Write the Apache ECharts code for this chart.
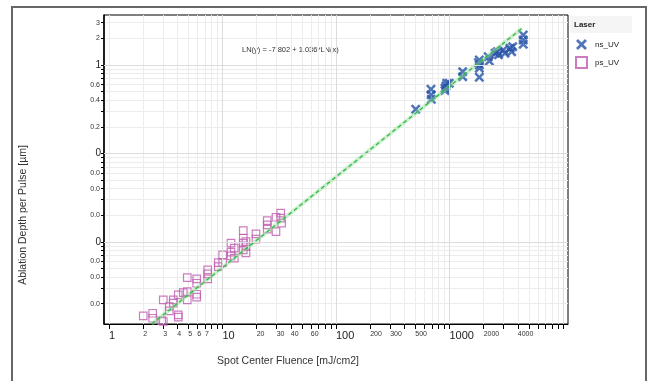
<!DOCTYPE html>
<html><head><meta charset="utf-8">
<script src="https://cdn.jsdelivr.net/npm/echarts@6/dist/echarts.min.js"></script>
<style>html,body{margin:0;padding:0;background:#fff}#c{width:651px;height:381px}</style>
</head><body><div id="c"></div>
<script>
// ---- data ----
const nsUV_x = [504, 687, 692, 690, 913, 913, 945, 996, 930, 1307, 1307, 1832, 1832, 1832, 1832, 1800, 2198, 2243, 2518, 2637, 2700, 2979, 3080, 3413, 3530, 3605, 4467, 4467, 4467];
const nsUV_y = [0.316, 0.531, 0.41, 0.46, 0.513, 0.545, 0.621, 0.621, 0.58, 0.84, 0.738, 1.139, 1.0, 0.918, 0.726, 1.06, 1.24, 1.11, 1.356, 1.413, 1.30, 1.477, 1.356, 1.544, 1.413, 1.61, 2.18, 1.915, 1.713];
const psUV_x = [2.005, 2.427, 2.427, 2.913, 3.009, 3.009, 3.398, 3.398, 3.686, 3.686, 4.08, 4.08, 4.08, 4.515, 4.895, 4.895, 4.895, 5.926, 5.926, 5.926, 5.926, 7.41, 7.41, 7.41, 9.18, 9.18, 10.04, 10.04, 11.88, 11.88, 11.88, 12.7, 12.7, 15.25, 15.25, 15.25, 15.25, 16.1, 16.1, 16.1, 19.73, 19.73, 24.8, 24.8, 24.8, 29.6, 29.6, 32.6, 32.6, 33.2];
const psUV_y = [0.00146, 0.00156, 0.00137, 0.00129, 0.00126, 0.00221, 0.00186, 0.00166, 0.00221, 0.00203, 0.00252, 0.0015, 0.00141, 0.00267, 0.00274, 0.00221, 0.00395, 0.00382, 0.00341, 0.00256, 0.00237, 0.00483, 0.00435, 0.00382, 0.00583, 0.00526, 0.00713, 0.00583, 0.00966, 0.00765, 0.00695, 0.00849, 0.00654, 0.01342, 0.0110, 0.00966, 0.00812, 0.01008, 0.00885, 0.0075, 0.0123, 0.01073, 0.0174, 0.01556, 0.01393, 0.0190, 0.01306, 0.0211, 0.01853, 0.01626];
const fitX = [2.38, 4365];
const fitY = [0.00118, 2.6];
const xRange = [0.904, 11070];
const yRange = [0.00118, 3.67];
const xTickValues = [1,2,3,4,5,6,7,8,9,10,20,30,40,50,60,70,80,90,100,200,300,400,500,600,700,800,900,1000,2000,3000,4000,5000,6000,7000,8000,9000,10000];
const xLabelsSmall = ['2','3','4','5','6','7','20','30','40','60','200','300','500','2000','4000'];
const xLabelsBig = ['1','10','100','1000'];
const yTickValues = [3,2,1,0.9,0.8,0.7,0.6,0.5,0.4,0.3,0.2,0.1,0.09,0.08,0.07,0.06,0.05,0.04,0.03,0.02,0.01,0.009,0.008,0.007,0.006,0.005,0.004,0.003,0.002];
const yLabelsSmall = ['3','2','0.6','0.4','0.2','0.06','0.04','0.02','0.006','0.004','0.002'];
const yLabelsBig = ['1','0.1','0.01'];
const decadesX = [10, 100, 1000, 10000];
const decadesY = [1, 0.1, 0.01];
const equationText = 'LN(y) = -7.802 + 1.036*LN(x)';

// ---- chart ----
const L = v => Math.log10(v);
const fmt = list => v => { for (const s of list) { if (Math.abs(L(+s) - v) < 1e-6) return s; } return ''; };
const pts = (xs, ys) => xs.map((x, i) => [L(x), L(ys[i])]);
const BLUE = '#2553a8', PINK = '#bf5cb0';
const XPATH = 'path://M0,1.8 L1.8,0 L5,3.2 L8.2,0 L10,1.8 L6.8,5 L10,8.2 L8.2,10 L5,6.8 L1.8,10 L0,8.2 L3.2,5 Z';

const xBase = { type: 'value', position: 'bottom', min: L(xRange[0]), max: L(xRange[1]) };
const yBase = { type: 'value', position: 'left', min: L(yRange[0]), max: L(yRange[1]) };

const chart = echarts.init(document.getElementById('c'), null, { renderer: 'canvas' });
chart.setOption({
  animation: false,
  backgroundColor: '#fff',
  textStyle: { fontFamily: 'Liberation Sans, Arial, sans-serif' },
  grid: { left: 104, top: 15, width: 464, height: 309, show: true, borderColor: '#000', borderWidth: 1, containLabel: false },
  xAxis: [
    Object.assign({}, xBase, {
      axisLine: { onZero: false, lineStyle: { color: '#000', width: 1 } },
      axisTick: { customValues: xTickValues.map(L), length: 5, lineStyle: { color: '#000' } },
      axisLabel: { customValues: xLabelsSmall.map(s => L(+s)), formatter: fmt(xLabelsSmall), fontSize: 7, color: '#333', align: 'left', margin: 7 },
      splitLine: { show: true, lineStyle: { color: '#ececec', width: 1 } }
    }),
    Object.assign({}, xBase, {
      axisLine: { show: false }, axisTick: { show: false }, splitLine: { show: false },
      axisLabel: { customValues: xLabelsBig.map(s => L(+s)), formatter: fmt(xLabelsBig), fontSize: 11, color: '#222', align: 'left', margin: 6 }
    })
  ],
  yAxis: [
    Object.assign({}, yBase, {
      axisLine: { onZero: false, lineStyle: { color: '#000', width: 1.5 } },
      axisTick: { customValues: yTickValues.map(L), length: 3, lineStyle: { color: '#000' } },
      axisLabel: { customValues: yLabelsSmall.map(s => L(+s)), formatter: fmt(yLabelsSmall), fontSize: 7, color: '#333', margin: 4, width: 12, overflow: 'truncate', ellipsis: '', align: 'right' },
      splitLine: { show: true, lineStyle: { color: '#ececec', width: 1 } }
    }),
    Object.assign({}, yBase, {
      axisLine: { show: false }, axisTick: { show: false }, splitLine: { show: false },
      axisLabel: { customValues: yLabelsBig.map(s => L(+s)), formatter: fmt(yLabelsBig), fontSize: 10, color: '#222', margin: 3, width: 9, overflow: 'truncate', ellipsis: '', align: 'right' }
    })
  ],
  legend: {
    orient: 'vertical', left: 570, top: 34, itemWidth: 11, itemHeight: 11, itemGap: 6,
    textStyle: { fontSize: 8, color: '#222', padding: [0, 0, 0, 3] },
    data: ['ns_UV', 'ps_UV']
  },
  graphic: [
    { type: 'rect', shape: { x: 12, y: 7, width: 634, height: 380 }, style: { fill: 'none', stroke: '#666', lineWidth: 2 }, silent: true, z: -10 },
    { type: 'rect', shape: { x: 570, y: 16, width: 62, height: 17 }, style: { fill: '#f5f5f5' }, silent: true },
    { type: 'text', x: 574, y: 24.5, style: { text: 'Laser', font: 'bold 8px Liberation Sans, Arial, sans-serif', fill: '#222', textVerticalAlign: 'middle' }, silent: true },
    { type: 'text', x: 242, y: 50, style: { text: equationText, font: '7.5px Liberation Sans, Arial, sans-serif', fill: '#333', textVerticalAlign: 'middle' }, silent: true },
    { type: 'text', x: 288, y: 361, style: { text: 'Spot Center Fluence [mJ/cm2]', font: '10.5px Liberation Sans, Arial, sans-serif', fill: '#333', textAlign: 'center', textVerticalAlign: 'middle' }, silent: true },
    { type: 'text', x: 23, y: 215, rotation: Math.PI / 2, style: { text: 'Ablation Depth per Pulse [µm]', font: '10.5px Liberation Sans, Arial, sans-serif', fill: '#333', textAlign: 'center', textVerticalAlign: 'middle' }, silent: true }
  ],
  series: [
    {
      name: 'ps_UV', type: 'scatter', symbol: 'rect', symbolSize: 7.5,
      itemStyle: { color: 'rgba(0,0,0,0)', borderColor: PINK, borderWidth: 1.2 },
      data: pts(psUV_x, psUV_y),
      markLine: {
        silent: true, symbol: 'none', label: { show: false },
        lineStyle: { color: '#dcdcdc', type: 'solid', width: 1 },
        data: decadesY.map(v => ({ yAxis: L(v) })).concat(decadesX.map(v => ({ xAxis: L(v) })))
      }
    },
    {
      name: 'ns_UV', type: 'scatter', symbol: XPATH, symbolSize: 10,
      itemStyle: { color: BLUE },
      data: pts(nsUV_x, nsUV_y)
    },
    {
      name: 'band', type: 'line', symbol: 'none', silent: true,
      lineStyle: { color: 'rgba(150,225,150,0.45)', width: 4 },
      data: pts(fitX, fitY)
    },
    {
      name: 'fit', type: 'line', symbol: 'none', silent: true,
      lineStyle: { color: '#2fb84a', width: 1.3, type: [4, 3] },
      data: pts(fitX, fitY)
    }
  ]
});
</script></body></html>
